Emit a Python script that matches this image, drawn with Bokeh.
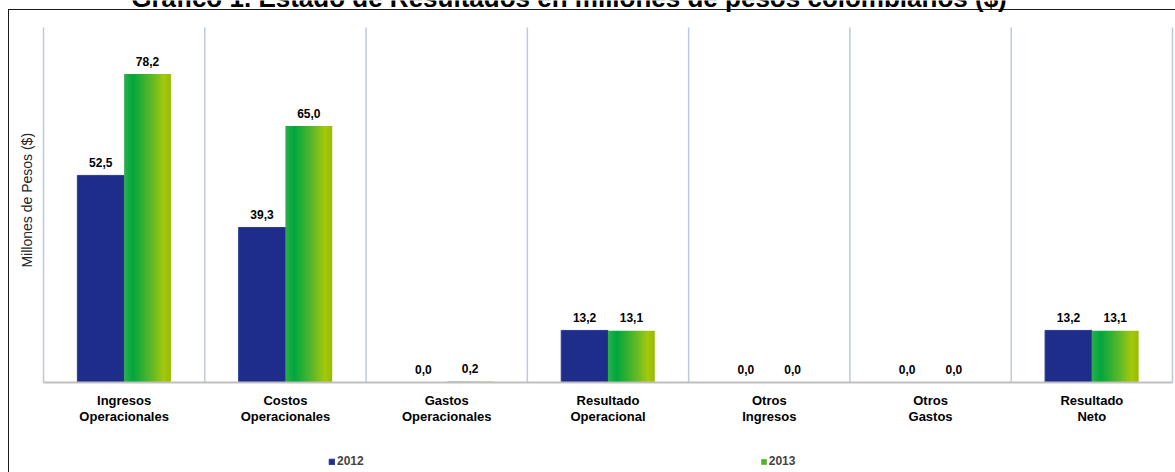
import math
from bokeh.plotting import figure
from bokeh.models import (Range1d, Legend, LegendItem, Label, ColumnDataSource, FixedTicker)
from bokeh.transform import dodge
from bokeh.core.properties import value
from bokeh.embed import file_html
from bokeh.resources import INLINE

# ---- data ----
categories = ["Ingresos\nOperacionales", "Costos\nOperacionales", "Gastos\nOperacionales",
              "Resultado\nOperacional", "Otros\nIngresos", "Otros\nGastos", "Resultado\nNeto"]
years = ["2012", "2013"]
values_2012 = [52.5, 39.3, 0.0, 13.2, 0.0, 0.0, 13.2]
values_2013 = [78.2, 65.0, 0.2, 13.1, 0.0, 0.0, 13.1]
title_text = "Gráfico 1. Estado de Resultados en millones de pesos colombianos ($)"
y_label = "Millones de Pesos ($)"
Y_MAX = 90


def fmt(v):
    return f"{v:.1f}".replace(".", ",")


FONT = "Liberation Sans"
BAR_W = 0.29
BORDER = "#1a1a1a"
NCAT = len(categories)

# layout of the drawing area (pixels) -> data ranges
W, H = 1175, 472
PLOT_L, PLOT_R, PLOT_T, PLOT_B = 43, 1172, 27, 382
cat_px = (PLOT_R - PLOT_L) / NCAT
y_px = (PLOT_B - PLOT_T) / Y_MAX
x_start = -PLOT_L / cat_px
x_end = NCAT + (W - PLOT_R) / cat_px
y_start = -(H - PLOT_B) / y_px
y_end = Y_MAX + PLOT_T / y_px

centers = [i + 0.5 for i in range(NCAT)]
src = ColumnDataSource(dict(
    xc=centers,
    v2012=values_2012,
    v2013=values_2013,
    l2012=[fmt(v) for v in values_2012],
    l2013=[fmt(v) for v in values_2013],
))

p = figure(x_range=Range1d(x_start, x_end), y_range=Range1d(y_start, y_end),
           width=W, height=H, output_backend="svg", toolbar_location=None,
           min_border_left=0, min_border_right=0, min_border_top=0, min_border_bottom=0,
           styles={
               "background-color": "white",
               "background-image": f"linear-gradient({BORDER},{BORDER}), linear-gradient({BORDER},{BORDER})",
               "background-size": "1px 100%, 100% 1px",
               "background-position": "8px 9px, 8px 9px",
               "background-repeat": "no-repeat",
           })
p.outline_line_color = None
p.xgrid.grid_line_color = None
p.ygrid.grid_line_color = None
p.background_fill_color = None
p.border_fill_color = None
p.yaxis.visible = False

# category separator lines (category boundaries)
bounds = list(range(NCAT + 1))
p.segment(x0=bounds, y0=[0] * len(bounds), x1=bounds, y1=[Y_MAX] * len(bounds),
          line_color="#bccadf", line_width=1.5)

# 2012 bars
r2012 = p.vbar(x=dodge("xc", -BAR_W / 2), top="v2012", width=BAR_W,
               source=src, fill_color="#1f2d8a", line_color="#2b3a9a", line_width=1)

# 2013 bars with horizontal gradient made of strips
stops = [(0.0, (45, 175, 75)), (0.18, (0, 166, 62)), (0.55, (85, 182, 42)),
         (0.85, (165, 200, 12)), (1.0, (150, 188, 0))]


def grad(t):
    for (t0, c0), (t1, c1) in zip(stops[:-1], stops[1:]):
        if t0 <= t <= t1:
            f = (t - t0) / (t1 - t0)
            return "#%02x%02x%02x" % tuple(int(round(a + (b - a) * f)) for a, b in zip(c0, c1))
    return "#%02x%02x%02x" % stops[-1][1]


N = 24
sw = BAR_W / N
r2013_mid = None
for i in range(N):
    t = (i + 0.5) / N
    col = grad(t)
    lo = i * sw
    w = sw * 1.6 if i < N - 1 else sw
    r = p.vbar(x=dodge("xc", lo + w / 2), top="v2013",
               width=w, source=src, fill_color=col, line_color=None)
    if i == N // 2:
        r2013_mid = r

# value labels
p.text(x=dodge("xc", -BAR_W / 2), y="v2012", text="l2012", source=src,
       text_align="center", text_baseline="alphabetic", y_offset=-13,
       text_font=value(FONT), text_font_size="12px", text_font_style="bold", text_color="black")
p.text(x=dodge("xc", BAR_W / 2), y="v2013", text="l2013", source=src,
       text_align="center", text_baseline="alphabetic", y_offset=-13,
       text_font=value(FONT), text_font_size="12px", text_font_style="bold", text_color="black")

# category axis pinned at y = 0
xa = p.xaxis[0]
xa.fixed_location = 0
xa.bounds = (0, NCAT)
xa.ticker = FixedTicker(ticks=centers)
xa.major_label_overrides = {c: name for c, name in zip(centers, categories)}
xa.axis_line_color = "#bfbfbf"
xa.axis_line_width = 2
xa.major_tick_line_color = None
xa.minor_tick_line_color = None
xa.major_tick_out = 0
xa.minor_tick_out = 0
xa.major_label_text_font = FONT
xa.major_label_text_font_size = "13px"
xa.major_label_text_font_style = "bold"
xa.major_label_text_color = "black"
xa.major_label_standoff = 10
xa.major_label_text_line_height = 1.1

# y axis title
p.add_layout(Label(x=-(PLOT_L - 26.5) / cat_px, y=Y_MAX / 2 + 1.2, text=y_label, angle=math.pi / 2,
                   text_align="center", text_baseline="middle", text_font=FONT,
                   text_font_size="14px", text_color="#262626"))

# legend
legend = Legend(items=[LegendItem(label=years[0], renderers=[r2012]),
                       LegendItem(label=years[1], renderers=[r2013_mid])],
                orientation="horizontal", location=(328, 4),
                glyph_width=7, glyph_height=7, label_standoff=2, spacing=396,
                padding=0, margin=0, border_line_color=None, background_fill_alpha=0,
                label_text_font=FONT, label_text_font_size="12px",
                label_text_font_style="bold", label_height=12)
p.add_layout(legend, "center")

# title (cropped at the top edge, as in the reference)
p.add_layout(Label(x=(568.5 - PLOT_L) / cat_px, y=Y_MAX + (PLOT_T + 3) / y_px, text=title_text,
                   text_align="center", text_baseline="alphabetic", text_font=FONT,
                   text_font_size="26px", text_font_style="bold", text_color="black"))

open("out.html", "w").write(file_html(p, INLINE))
